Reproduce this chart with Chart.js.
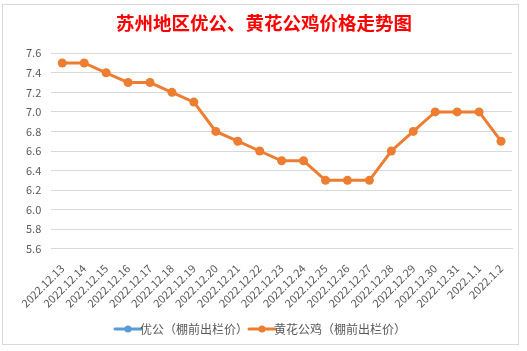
<!DOCTYPE html>
<html>
<head>
<meta charset="utf-8">
<script src="https://cdn.jsdelivr.net/npm/chart.js@4/dist/chart.umd.min.js"></script>
<style>
html,body{margin:0;padding:0;background:#fff;}
#wrap{position:absolute;left:0;top:0;width:527px;height:351px;}
#box{position:absolute;left:2px;top:4px;width:517px;height:341px;border:1px solid #D9D9D9;box-sizing:border-box;background:#fff;}
canvas{position:absolute;left:0;top:0;}
</style>
</head>
<body>
<div id="wrap"><div id="box"></div><canvas id="c" width="527" height="351"></canvas></div>
<script>
const titleText = '苏州地区优公、黄花公鸡价格走势图';
const categories = ['2022.12.13','2022.12.14','2022.12.15','2022.12.16','2022.12.17','2022.12.18','2022.12.19','2022.12.20','2022.12.21','2022.12.22','2022.12.23','2022.12.24','2022.12.25','2022.12.26','2022.12.27','2022.12.28','2022.12.29','2022.12.30','2022.12.31','2022.1.1','2022.1.2'];
const youGongName = '优公（棚前出栏价）';
const youGongValues = [null,null,null,null,null,null,null,null,null,null,null,null,null,null,null,null,null,null,null,null,null];
const huanghuaName = '黄花公鸡（棚前出栏价）';
const huanghuaValues = [7.5,7.5,7.4,7.3,7.3,7.2,7.1,6.8,6.7,6.6,6.5,6.5,6.3,6.3,6.3,6.6,6.8,7.0,7.0,7.0,6.7];
const yTicks = [5.6,5.8,6.0,6.2,6.4,6.6,6.8,7.0,7.2,7.4,7.6];

function legendIcon(color){
  const c=document.createElement('canvas');c.width=30;c.height=10;
  const x=c.getContext('2d');
  x.strokeStyle=color;x.lineWidth=3;x.lineCap='round';
  x.beginPath();x.moveTo(2,5);x.lineTo(28,5);x.stroke();
  x.fillStyle=color;x.beginPath();x.arc(15,5,3.5,0,Math.PI*2);x.fill();
  return c;
}
const FONT='"Microsoft YaHei","Noto Sans CJK SC","Noto Sans",sans-serif';
new Chart(document.getElementById('c'),{
  type:'line',
  data:{labels:categories,datasets:[
    {label:youGongName,data:youGongValues,borderColor:'#5B9BD5',backgroundColor:'#5B9BD5',borderWidth:3,pointRadius:4.5},
    {label:huanghuaName,data:huanghuaValues,borderColor:'#ED7D31',backgroundColor:'#ED7D31',borderWidth:3,pointRadius:4.5,pointHoverRadius:4.5,pointBorderWidth:0}
  ]},
  options:{
    responsive:false,animation:false,
    layout:{padding:{left:16,right:15,top:8,bottom:6}},
    elements:{point:{pointStyle:'circle'}},
    plugins:{
      title:{display:true,text:titleText,color:'#FF0000',font:{family:'"Noto Sans CJK SC",serif',size:18.5,weight:'bold'},padding:{top:4,bottom:19}},
      legend:{position:'bottom',labels:{color:'#595959',font:{family:FONT,size:12},boxWidth:30,boxHeight:10,padding:8,
        generateLabels:(chart)=>chart.data.datasets.map((d,i)=>({text:d.label,fillStyle:d.borderColor,strokeStyle:d.borderColor,lineWidth:0,pointStyle:legendIcon(d.borderColor),datasetIndex:i,fontColor:'#595959'})),
        usePointStyle:true}},
      tooltip:{enabled:false}
    },
    scales:{
      x:{offset:true,grid:{display:false},border:{display:true,color:'#D9D9D9'},
        ticks:{color:'#595959',font:{family:FONT,size:11},minRotation:45,maxRotation:45,autoSkip:false,padding:5}},
      y:{min:5.6,max:7.6,border:{display:false},grid:{color:'#D9D9D9',drawTicks:false},
        afterBuildTicks:(ax)=>{ax.ticks=yTicks.map(v=>({value:v}));},
        ticks:{color:'#595959',font:{family:FONT,size:11},padding:10,callback:(v)=>Number(v).toFixed(1)}}
    }
  }
});
</script>
</body>
</html>
